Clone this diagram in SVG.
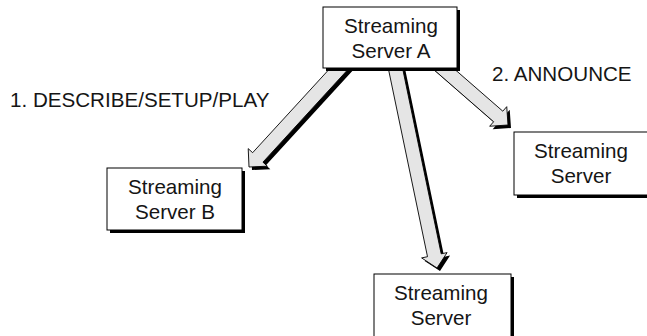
<svg xmlns="http://www.w3.org/2000/svg" width="647" height="336" viewBox="0 0 647 336">
  <style>
    .bg { fill: #ffffff; }
    .box { fill: #ffffff; stroke: #000000; stroke-width: 1; }
    .shadow { fill: #000000; }
    .arrow { fill: #e5e5e5; stroke: #000000; stroke-width: 0.9; stroke-linejoin: miter; }
    .label { font-family: "Liberation Sans", Arial, Helvetica, sans-serif; font-size: 20.6px; fill: #151515; }
    .mid { text-anchor: middle; }
  </style>
  <defs>
    <!-- block arrow shapes, drawn once as shadow and once as face -->
    <polygon id="arrow-b" points="351.14,45.27 252.63,152.69 248.21,148.63 249,167 267.37,166.21 262.95,162.15 361.46,54.73"/>
    <polygon id="arrow-d" points="384.77,51.43 427.50,256.70 421.62,257.92 437,268 447.08,252.62 441.20,253.84 398.47,48.57"/>
    <polygon id="arrow-c" points="417.3,55.28 493.6,121.74 489.66,126.26 508,125 506.74,106.66 502.8,111.18 426.5,44.72"/>
  </defs>

  <rect class="bg" x="0" y="0" width="647" height="336"/>

  <g id="connectors">
    <g id="edge-a-b">
      <use href="#arrow-b" class="shadow" transform="translate(3,3)"/>
      <use href="#arrow-b" class="arrow"/>
    </g>
    <g id="edge-a-d">
      <use href="#arrow-d" class="shadow" transform="translate(3,3)"/>
      <use href="#arrow-d" class="arrow"/>
    </g>
    <g id="edge-a-c">
      <use href="#arrow-c" class="shadow" transform="translate(3,3)"/>
      <use href="#arrow-c" class="arrow"/>
    </g>
    <text class="label" x="10" y="107">1. DESCRIBE/SETUP/PLAY</text>
    <text class="label" x="492" y="81">2. ANNOUNCE</text>
  </g>

  <g id="server-a">
    <rect class="shadow" x="326" y="10" width="134" height="61"/>
    <rect class="box" x="323" y="7" width="134" height="61"/>
    <text class="label mid" x="391" y="33">Streaming</text>
    <text class="label mid" x="391" y="58">Server A</text>
  </g>

  <g id="server-b">
    <rect class="shadow" x="110" y="171" width="135" height="62"/>
    <rect class="box" x="107" y="168" width="135" height="62"/>
    <text class="label mid" x="175" y="194">Streaming</text>
    <text class="label mid" x="175" y="219">Server B</text>
  </g>

  <g id="server-c">
    <rect class="shadow" x="517" y="135" width="136" height="63"/>
    <rect class="box" x="514" y="132" width="136" height="63"/>
    <text class="label mid" x="581" y="158">Streaming</text>
    <text class="label mid" x="581" y="183">Server</text>
  </g>

  <g id="server-d">
    <rect class="shadow" x="377" y="277" width="137" height="70"/>
    <rect class="box" x="374" y="274" width="137" height="70"/>
    <text class="label mid" x="441" y="300">Streaming</text>
    <text class="label mid" x="441" y="325">Server</text>
  </g>
</svg>
